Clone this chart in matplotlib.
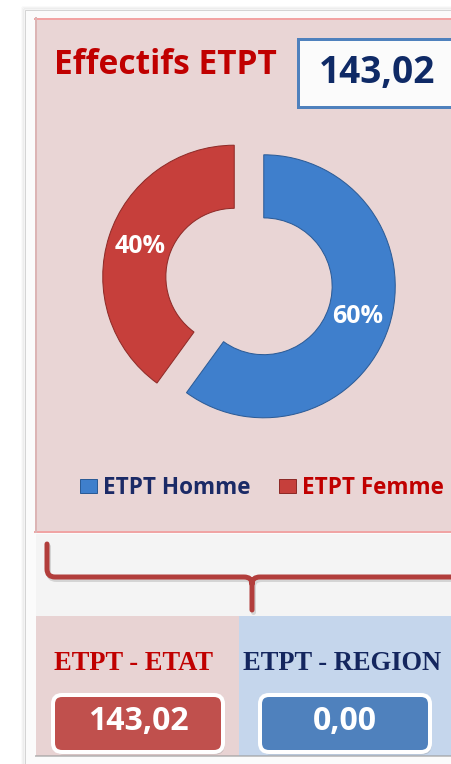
import matplotlib
matplotlib.use("Agg")
import matplotlib.pyplot as plt
from matplotlib.patches import Rectangle, FancyBboxPatch
from matplotlib.path import Path
from matplotlib.patches import PathPatch

# data
title = "Effectifs ETPT"
total_label = "143,02"
categories = ["ETPT Homme", "ETPT Femme"]
shares = [60, 40]
cat_colors = ["#3f7fcc", "#c63f3b"]
edge_colors = ["#2b5b96", "#8e2a27"]
legend_text_colors = ["#1b2a66", "#c00000"]
split_labels = ["ETPT - ETAT", "ETPT - REGION"]
split_values = ["143,02", "0,00"]

SANS = "Open Sans"
W, H = 451, 764
DPI = 72
fig = plt.figure(figsize=(W / DPI, H / DPI), dpi=DPI)
fig.patch.set_facecolor("white")

# background axes in pixel units (y down)
bg = fig.add_axes([0, 0, 1, 1])
bg.set_xlim(0, W)
bg.set_ylim(H, 0)
bg.axis("off")

# card + shadow
for i, a in enumerate([0.05, 0.08, 0.12]):
    bg.add_patch(Rectangle((25 - 3 + i, 10 - 3 + i), 440, 760, fc="none",
                           ec="#888888", lw=1.5, alpha=a))
bg.add_patch(Rectangle((25, 10), 440, 760, fc="#fbfbfb", ec="#d4d4d4", lw=1))

# pink panel
bg.add_patch(Rectangle((35, 18), 420, 514, fc="#e9d5d5", ec="none"))
bg.plot([35, W], [19, 19], color="#f2a3a3", lw=2)
bg.plot([35, W], [532, 532], color="#f0a4a4", lw=2)
bg.plot([35.5, 35.5], [18, 532], color="#dcb4b4", lw=2)

# title + total box
bg.text(54, 65, title, color="#c00000", fontsize=33.5, fontweight="bold",
        family=SANS, ha="left", va="center")
bg.add_patch(Rectangle((298, 39), 180, 68, fc="#fbfbfb", ec="#4f81bd", lw=3))
bg.text(377, 73, total_label, color="#0f2a66", fontsize=37, fontweight="bold",
        family=SANS, ha="center", va="center")

# donut
R = 131.5
cx, cy = 249, 281.5
half = 165
pie_ax = fig.add_axes([(cx - half) / W, 1 - (cy + half) / H, 2 * half / W, 2 * half / H])
wedges, _, autotexts = pie_ax.pie(
    shares, colors=cat_colors, startangle=90, counterclock=False,
    explode=[0.118, 0.118], autopct="%d%%", pctdistance=0.75,
    wedgeprops=dict(width=0.48, linewidth=1),
    textprops=dict(color="white", fontsize=25, fontweight="bold", family=SANS))
for w, ec in zip(wedges, edge_colors):
    w.set_edgecolor(ec)
pie_ax.set_xlim(-half / R, half / R)
pie_ax.set_ylim(-half / R, half / R)
pie_ax.set_aspect("equal")
pie_ax.axis("off")

fs_leg = 22.5
leg = pie_ax.legend(wedges, categories, loc="center", ncol=2, frameon=False,
                    bbox_to_anchor=(262 / W, 1 - 488 / H), bbox_transform=fig.transFigure,
                    prop=dict(family=SANS, weight="bold", size=fs_leg),
                    labelcolor=legend_text_colors, handlelength=17 / fs_leg,
                    handleheight=0.62, handletextpad=6 / fs_leg,
                    columnspacing=28 / fs_leg, borderpad=0)

# area under the panel
bg.add_patch(Rectangle((36, 534), 420, 82, fc="#f4f4f4", ec="none"))

# bracket
verts = [(47, 544), (47, 569), (47, 577), (55, 577), (244, 577), (252, 577), (252, 584),
         (252, 610), (252, 584), (252, 577), (260, 577), (W + 5, 577)]
codes = [Path.MOVETO, Path.LINETO, Path.CURVE3, Path.CURVE3, Path.LINETO, Path.CURVE3,
         Path.CURVE3, Path.LINETO, Path.MOVETO, Path.CURVE3, Path.CURVE3, Path.LINETO]
shadow = Path([(x + 1.5, y + 2.5) for x, y in verts], codes)
bg.add_patch(PathPatch(shadow, fc="none", ec="#999999", lw=5, alpha=0.35, capstyle="round"))
bg.add_patch(PathPatch(Path(verts, codes), fc="none", ec="#b23e3c", lw=5,
                       capstyle="round", joinstyle="round"))

# bottom split section
bg.add_patch(Rectangle((36, 616), 203, 140, fc="#e8d3d3", ec="none"))
bg.add_patch(Rectangle((239, 616), 220, 140, fc="#c5d6ec", ec="none"))
bg.plot([36, W], [756, 756], color="#a0a0a0", lw=2, alpha=0.6)

header_x = [134, 342]
header_colors = ["#c00000", "#14265e"]
box_x = [53, 260]
box_colors = ["#c0504d", "#4f81bd"]
for hx, hc, lab, bx, bc, val in zip(header_x, header_colors, split_labels,
                                    box_x, box_colors, split_values):
    bg.text(hx, 664, lab, color=hc, fontsize=26.5, fontweight="bold",
            family="Liberation Serif", ha="center", va="center")
    bg.add_patch(FancyBboxPatch((bx + 1.5, 695 + 2.5), 170, 57,
                                boxstyle="round,pad=0,rounding_size=9",
                                fc="#888888", ec="none", alpha=0.35))
    bg.add_patch(FancyBboxPatch((bx, 695), 170, 57, boxstyle="round,pad=0,rounding_size=9",
                                fc=bc, ec="white", lw=4))
    bg.text(bx + 85, 722, val, color="white", fontsize=32, fontweight="bold",
            family=SANS, ha="center", va="center")

fig.savefig("out.png", dpi=DPI)
